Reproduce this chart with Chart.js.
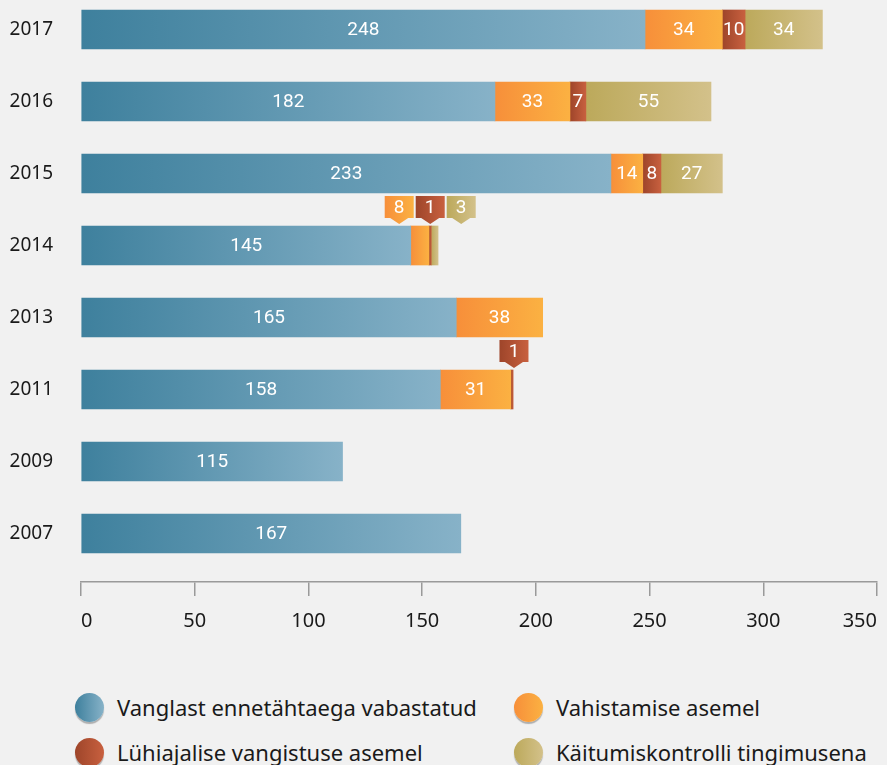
<!DOCTYPE html>
<html lang="et">
<head>
<meta charset="utf-8">
<title>Ennetähtaegne vabastamine ja alternatiivid</title>
<script src="https://cdn.jsdelivr.net/npm/chart.js@4.4.1/dist/chart.umd.min.js"></script>
<style>
  html, body { margin: 0; padding: 0; background: #f1f1f1; overflow: hidden; }
  #wrap { position: relative; width: 887px; height: 765px; }
  #chart { position: absolute; left: 0; top: 0; }
  .leg { position: absolute; display: flex; align-items: center; font-family: "Noto Sans", sans-serif; font-size: 22px; color: #1a1a1a; white-space: nowrap; }
  .leg i { display: inline-block; width: 29px; height: 29px; border-radius: 50%; margin-right: 13px; box-shadow: 0 2px 1px rgba(0,0,0,0.28); }
</style>
</head>
<body>
<div id="wrap">
  <canvas id="chart" width="887" height="660"></canvas>
  <div id="legend"></div>
</div>
<script>
const years = ["2017", "2016", "2015", "2014", "2013", "2011", "2009", "2007"];

const releasedEarly = [248, 182, 233, 145, 165, 158, 115, 167];
const insteadOfCustody = [34, 33, 14, 8, 38, 31, null, null];
const insteadOfShortPrison = [10, 7, 8, 1, null, 1, null, null];
const conductSupervision = [34, 55, 27, 3, null, null, null, null];

const seriesNames = [
  "Vanglast ennetähtaega vabastatud",
  "Vahistamise asemel",
  "Lühiajalise vangistuse asemel",
  "Käitumiskontrolli tingimusena"
];
const seriesValues = [releasedEarly, insteadOfCustody, insteadOfShortPrison, conductSupervision];
const seriesColors = [
  ["#3e809d", "#87b2c8"],
  ["#f78f3a", "#fbb142"],
  ["#9e452a", "#c8603f"],
  ["#bca95b", "#d3c18a"]
];

const xTicks = [0, 50, 100, 150, 200, 250, 300, 350];

// each segment gets its own left-to-right gradient
function segmentFill(ctx) {
  const d = ctx.datasetIndex;
  const [c0, c1] = seriesColors[d];
  const chart = ctx.chart;
  if (!chart.chartArea || ctx.type !== "data") return c0;
  const i = ctx.dataIndex;
  let start = 0;
  for (let k = 0; k < d; k++) start += seriesValues[k][i] || 0;
  const end = start + (seriesValues[d][i] || 0);
  const xs = chart.scales.x;
  const x0 = xs.getPixelForValue(start), x1 = xs.getPixelForValue(end);
  if (!(x1 > x0)) return c0;
  const g = chart.ctx.createLinearGradient(x0, 0, x1, 0);
  g.addColorStop(0, c0);
  g.addColorStop(1, c1);
  return g;
}

function boxGradient(c, x0, x1, d) {
  const g = c.createLinearGradient(x0, 0, x1, 0);
  g.addColorStop(0, seriesColors[d][0]);
  g.addColorStop(1, seriesColors[d][1]);
  return g;
}

// values inside the bars; narrow segments get a flag above the bar
const valueLabels = {
  id: "valueLabels",
  afterDatasetsDraw(chart) {
    const c = chart.ctx;
    c.save();
    c.font = "19px Roboto, sans-serif";
    c.textAlign = "center";
    c.textBaseline = "middle";
    years.forEach((_, i) => {
      const segs = [];
      seriesValues.forEach((vals, d) => {
        const v = vals[i];
        if (!v) return;
        const el = chart.getDatasetMeta(d).data[i];
        const w = Math.abs(el.x - el.base);
        segs.push({ d, v, el, w, cx: (el.x + el.base) / 2 });
      });
      const crowded = segs.some(s => s.w < 12);
      const flags = crowded ? segs.filter(s => s.w < 25) : [];
      segs.forEach(s => {
        if (flags.includes(s)) return;
        c.fillStyle = "#ffffff";
        c.fillText(String(s.v), s.cx, s.el.y + 1);
      });
      if (!flags.length) return;
      const bw = 29, bh = 22, gap = 2, tip = 6;
      const mid = flags.reduce((a, s) => a + s.cx, 0) / flags.length;
      const total = flags.length * bw + (flags.length - 1) * gap;
      const barTop = flags[0].el.y - flags[0].el.height / 2;
      const tipY = barTop - 2;
      const top = tipY - tip - bh;
      flags.forEach((s, k) => {
        const x0 = mid - total / 2 + k * (bw + gap) + 2;
        const bx = x0 + bw / 2;
        c.fillStyle = boxGradient(c, x0, x0 + bw, s.d);
        c.beginPath();
        c.moveTo(x0, top);
        c.lineTo(x0 + bw, top);
        c.lineTo(x0 + bw, top + bh);
        c.lineTo(bx + 9, top + bh);
        c.lineTo(bx, tipY);
        c.lineTo(bx - 9, top + bh);
        c.lineTo(x0, top + bh);
        c.closePath();
        c.fill();
        c.fillStyle = "#ffffff";
        c.fillText(String(s.v), bx, top + bh / 2 + 1);
      });
    });
    c.restore();
  }
};

const canvas = document.getElementById("chart");
const plotBottom = 582;

new Chart(canvas.getContext("2d"), {
  type: "bar",
  data: {
    datasets: seriesNames.map((name, d) => ({
      label: name,
      data: seriesValues[d].map((v, i) => ({ x: v, y: i })),
      backgroundColor: segmentFill,
      borderWidth: 0,
      barThickness: 39,
      stack: "all"
    }))
  },
  options: {
    indexAxis: "y",
    responsive: false,
    animation: false,
    events: [],
    layout: { padding: { left: 0, right: 10, top: 0, bottom: 0 } },
    plugins: {
      legend: { display: false },
      tooltip: { enabled: false }
    },
    scales: {
      x: {
        type: "linear",
        stacked: true,
        min: 0,
        max: 350,
        grid: { display: true, drawOnChartArea: false, drawTicks: true, tickLength: 14, color: "#9a9a9a", lineWidth: 1.5 },
        border: { display: true, color: "#9a9a9a", width: 1.5 },
        afterBuildTicks: s => { s.ticks = xTicks.map(v => ({ value: v })); },
        ticks: {
          align: "inner",
          padding: 13,
          color: "#1a1a1a",
          font: { family: "'Noto Sans', sans-serif", size: 20 }
        },
        afterFit: s => {
          s.height = canvas.height - plotBottom;
          s.paddingLeft = 0;
          s.paddingRight = 0;
        }
      },
      y: {
        type: "linear",
        reverse: true,
        offset: false,
        min: -29.5 / 72,
        max: -29.5 / 72 + plotBottom / 72,
        grid: { display: false, drawTicks: false, offset: false },
        border: { display: false },
        afterBuildTicks: s => { s.ticks = years.map((_, i) => ({ value: i })); },
        ticks: {
          padding: 28,
          color: "#1a1a1a",
          font: { family: "'Noto Sans', sans-serif", size: 19 },
          callback: v => years[v]
        },
        afterFit: s => {
          s.width = 81;
          s.paddingTop = 0;
          s.paddingBottom = 0;
        }
      }
    }
  },
  plugins: [valueLabels]
});

// legend: two columns, filled row by row
const legend = document.getElementById("legend");
const legCols = [75, 514];
const legRows = [707, 752];
seriesNames.forEach((name, d) => {
  const item = document.createElement("div");
  item.className = "leg";
  item.style.left = legCols[d % 2] + "px";
  item.style.top = (legRows[Math.floor(d / 2)] - 15) + "px";
  item.style.height = "30px";
  const dot = document.createElement("i");
  dot.style.background = "linear-gradient(90deg, " + seriesColors[d][0] + ", " + seriesColors[d][1] + ")";
  item.appendChild(dot);
  item.appendChild(document.createTextNode(name));
  legend.appendChild(item);
});
</script>
</body>
</html>
